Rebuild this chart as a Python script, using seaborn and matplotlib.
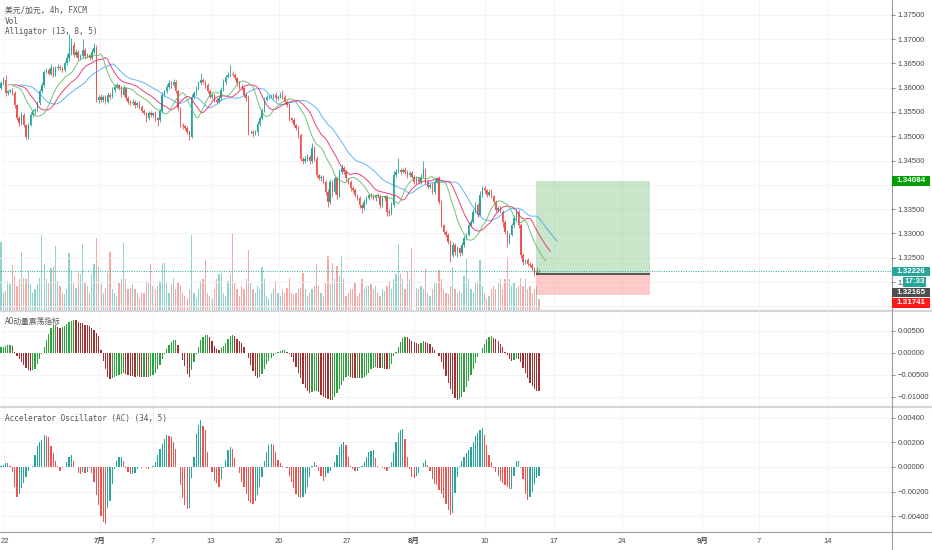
import numpy as np
import pandas as pd
import matplotlib
matplotlib.use("Agg")
import matplotlib.pyplot as plt
import seaborn as sns
from matplotlib.patches import Rectangle
from matplotlib.lines import Line2D

# ------------------------------------------ données (USD/CAD 4h) ------------------------------------------
first_open = 1.3600
closes = [
    1.3609, 1.3616, 1.3588, 1.3592, 1.3595, 1.3588, 1.3564, 1.3537, 1.3527, 1.3544,
    1.3523, 1.3499, 1.3523, 1.3544, 1.3551, 1.3554, 1.3568, 1.3592, 1.3605, 1.3633,
    1.3636, 1.3629, 1.3640, 1.3626, 1.3640, 1.3643, 1.3640, 1.3636, 1.3650, 1.3660,
    1.3671, 1.3688, 1.3667, 1.3674, 1.3660, 1.3664, 1.3677, 1.3664, 1.3667, 1.3660,
    1.3674, 1.3681, 1.3575, 1.3581, 1.3575, 1.3581, 1.3571, 1.3585, 1.3581, 1.3595,
    1.3602, 1.3605, 1.3599, 1.3585, 1.3599, 1.3578, 1.3571, 1.3568, 1.3571, 1.3564,
    1.3568, 1.3561, 1.3551, 1.3547, 1.3537, 1.3547, 1.3544, 1.3547, 1.3537, 1.3533,
    1.3551, 1.3585, 1.3592, 1.3602, 1.3609, 1.3605, 1.3612, 1.3592, 1.3557, 1.3523,
    1.3520, 1.3516, 1.3509, 1.3499, 1.3581, 1.3588, 1.3599, 1.3609, 1.3616, 1.3612,
    1.3605, 1.3592, 1.3581, 1.3585, 1.3575, 1.3571, 1.3578, 1.3595, 1.3612, 1.3622,
    1.3626, 1.3629, 1.3626, 1.3619, 1.3609, 1.3602, 1.3599, 1.3585, 1.3578, 1.3509,
    1.3509, 1.3506, 1.3509, 1.3526, 1.3537, 1.3554, 1.3575, 1.3581, 1.3581, 1.3581,
    1.3585, 1.3578, 1.3581, 1.3585, 1.3581, 1.3571, 1.3564, 1.3537, 1.3533, 1.3523,
    1.3516, 1.3502, 1.3454, 1.3448, 1.3454, 1.3458, 1.3448, 1.3475, 1.3454, 1.3420,
    1.3413, 1.3417, 1.3406, 1.3386, 1.3365, 1.3406, 1.3386, 1.3413, 1.3379, 1.3427,
    1.3434, 1.3427, 1.3413, 1.3406, 1.3393, 1.3389, 1.3379, 1.3372, 1.3358, 1.3352,
    1.3365, 1.3372, 1.3379, 1.3376, 1.3372, 1.3379, 1.3376, 1.3358, 1.3372, 1.3376,
    1.3345, 1.3341, 1.3358, 1.3420, 1.3427, 1.3430, 1.3427, 1.3430, 1.3427, 1.3420,
    1.3424, 1.3417, 1.3406, 1.3413, 1.3406, 1.3417, 1.3430, 1.3406, 1.3396, 1.3400,
    1.3386, 1.3406, 1.3413, 1.3365, 1.3317, 1.3303, 1.3297, 1.3283, 1.3256, 1.3276,
    1.3262, 1.3269, 1.3259, 1.3276, 1.3290, 1.3297, 1.3317, 1.3324, 1.3345, 1.3358,
    1.3338, 1.3379, 1.3393, 1.3389, 1.3379, 1.3386, 1.3376, 1.3365, 1.3348, 1.3352,
    1.3345, 1.3324, 1.3303, 1.3283, 1.3297, 1.3317, 1.3331, 1.3345, 1.3317, 1.3256,
    1.3242, 1.3245, 1.3238, 1.3235, 1.3228, 1.3218, 1.3223, 1.32226,
]
# mèches en pips au-dessus / en dessous du corps
wick_up = [
    4, 5, 10, 4, 3, 4, 5, 3, 4, 5, 4, 3, 4, 5, 4, 3, 5, 5, 6, 4,
    5, 4, 8, 4, 5, 6, 4, 3, 5, 10, 40, 15, 5, 6, 4, 5, 22, 4, 5, 3,
    6, 10, 6, 4, 5, 4, 3, 5, 4, 6, 5, 4, 3, 4, 6, 3, 4, 3, 5, 4,
    3, 4, 3, 4, 3, 4, 5, 3, 4, 3, 5, 6, 4, 5, 6, 4, 5, 3, 4, 3,
    4, 3, 4, 3, 5, 6, 4, 5, 15, 4, 3, 4, 5, 3, 4, 3, 5, 6, 5, 4,
    6, 18, 5, 4, 3, 4, 5, 3, 4, 6, 4, 3, 4, 5, 4, 5, 6, 4, 5, 6,
    4, 5, 4, 5, 10, 4, 3, 4, 3, 4, 3, 4, 5, 4, 6, 5, 4, 12, 4, 5,
    3, 4, 3, 4, 5, 6, 4, 5, 4, 6, 8, 4, 3, 4, 3, 4, 5, 3, 4, 3,
    5, 4, 3, 4, 5, 3, 4, 5, 4, 3, 4, 5, 6, 8, 6, 25, 5, 4, 6, 4,
    5, 4, 3, 5, 4, 6, 18, 4, 3, 4, 5, 6, 4, 5, 4, 3, 4, 3, 4, 6,
    4, 5, 4, 6, 5, 4, 5, 6, 5, 6, 4, 8, 5, 4, 3, 4, 5, 3, 4, 5,
    4, 3, 4, 5, 4, 5, 6, 6, 4, 5, 4, 3, 4, 3, 4, 3, 8, 4,
]
wick_dn = [
    4, 3, 5, 4, 3, 4, 5, 4, 6, 4, 5, 5, 4, 3, 4, 5, 3, 4, 3, 4,
    3, 4, 3, 5, 3, 4, 3, 4, 3, 4, 5, 3, 4, 5, 4, 3, 4, 5, 4, 3,
    4, 3, 5, 6, 4, 5, 4, 3, 4, 3, 4, 3, 4, 5, 3, 4, 5, 4, 3, 5,
    4, 5, 4, 3, 8, 4, 5, 4, 5, 12, 4, 3, 4, 3, 4, 5, 3, 4, 5, 4,
    5, 4, 5, 6, 3, 4, 3, 4, 3, 4, 5, 4, 3, 4, 5, 4, 3, 4, 3, 4,
    3, 4, 3, 4, 5, 4, 3, 4, 5, 6, 4, 8, 4, 6, 4, 3, 4, 3, 4, 3,
    4, 5, 4, 3, 4, 5, 4, 5, 4, 5, 4, 5, 6, 5, 4, 5, 6, 4, 5, 5,
    4, 5, 4, 6, 10, 5, 12, 4, 8, 4, 5, 4, 5, 4, 5, 4, 5, 4, 5, 10,
    4, 5, 4, 3, 4, 5, 4, 6, 4, 5, 10, 6, 4, 3, 4, 3, 4, 3, 4, 5,
    4, 3, 5, 4, 5, 4, 3, 5, 4, 3, 5, 4, 3, 5, 4, 5, 4, 5, 15, 5,
    6, 10, 5, 4, 3, 4, 3, 4, 3, 4, 5, 3, 4, 5, 4, 3, 4, 5, 4, 3,
    4, 10, 5, 12, 4, 3, 4, 3, 5, 6, 6, 4, 5, 4, 5, 5, 4, 4,
]
# hauteur relative des barres de volume
volume = [
    205, 55, 60, 90, 80, 137, 105, 75, 95, 175, 100, 95, 120, 80, 55, 65, 80, 100, 227, 140,
    95, 85, 130, 135, 195, 90, 75, 55, 50, 65, 173, 120, 85, 70, 115, 110, 200, 85, 75, 55,
    110, 140, 218, 135, 80, 55, 70, 115, 177, 65, 55, 45, 85, 95, 203, 95, 65, 70, 80, 65,
    55, 40, 55, 55, 90, 85, 140, 75, 65, 75, 90, 143, 145, 85, 55, 80, 100, 65, 85, 75,
    55, 45, 35, 65, 227, 55, 40, 65, 90, 95, 153, 55, 45, 35, 65, 95, 110, 115, 55, 45,
    90, 110, 232, 85, 65, 45, 75, 65, 95, 183, 85, 65, 55, 75, 65, 133, 95, 45, 35, 55,
    65, 90, 55, 45, 65, 55, 70, 100, 55, 50, 55, 65, 70, 115, 65, 45, 55, 65, 75, 140,
    75, 55, 45, 85, 165, 80, 143, 95, 135, 105, 165, 95, 45, 55, 65, 65, 85, 45, 55, 95,
    65, 75, 75, 80, 65, 75, 55, 45, 65, 60, 75, 90, 65, 95, 110, 200, 110, 95, 65, 120,
    95, 187, 110, 70, 65, 75, 65, 125, 55, 45, 65, 85, 85, 123, 95, 65, 55, 50, 75, 133,
    65, 55, 60, 55, 105, 155, 95, 65, 55, 85, 90, 153, 75, 55, 35, 45, 65, 75, 65, 85,
    95, 65, 95, 160, 95, 75, 85, 70, 75, 100, 75, 95, 65, 75, 55, 65, 75, 35,
]
# AO et AC (x 1e-4)
ao = [
    12, 14, 16, 17, 18, 15, 2, -8, -15, -22, -28, -35, -39, -41, -40, -36, -26, -14, -3, 12,
    28, 42, 55, 62, 64, 58, 56, 58, 60, 66, 70, 72, 75, 74, 70, 68, 67, 64, 62, 60,
    56, 52, 44, 38, 6, -18, -38, -55, -60, -58, -55, -52, -50, -48, -47, -48, -50, -53, -54, -55,
    -54, -55, -56, -55, -56, -55, -53, -50, -45, -37, -28, -14, -2, 8, 18, 24, 28, 29, 18, 0,
    -16, -30, -48, -56, -40, -20, -2, 14, 28, 36, 40, 40, 36, 26, 15, 8, 6, 10, 16, 22,
    30, 37, 40, 38, 32, 26, 22, 12, 0, -12, -28, -42, -52, -58, -56, -48, -36, -26, -18, -12,
    -8, -4, 2, 4, 5, 5, 2, -2, -10, -20, -32, -45, -58, -70, -80, -88, -91, -90, -88, -86,
    -90, -96, -100, -104, -106, -108, -107, -100, -92, -83, -74, -64, -56, -54, -55, -57, -58, -57, -58, -57,
    -55, -50, -45, -38, -34, -33, -34, -35, -35, -36, -38, -37, -25, -8, 2, 14, 25, 34, 36, 35,
    30, 27, 24, 22, 20, 22, 26, 24, 22, 20, 14, 6, 0, -8, -20, -36, -52, -68, -82, -94,
    -104, -107, -106, -100, -90, -78, -64, -50, -38, -24, -10, 0, 10, 20, 30, 36, 38, 34, 30, 26,
    20, 12, 2, -6, -14, -18, -16, -12, -14, -22, -34, -46, -58, -68, -76, -82, -86, -87,
]
ac = [
    1, 2, 3, 3, 1, -4, -16, -24, -22, -17, -13, -8, -3, 0, 1, 10, 17, 20, 22, 26,
    25, 24, 17, 11, 5, 1, -3, -1, 0, 4, 8, 10, 5, 0, -5, -6, -4, -5, -4, -1,
    -5, -12, -23, -31, -40, -45, -46, -33, -28, -14, -2, 5, 8, 8, 5, -1, -4, -6, -6, -5,
    -2, 0, -1, 0, -1, -2, 0, 1, 4, 10, 15, 19, 23, 26, 25, 24, 20, 15, 0, -15,
    -25, -31, -34, -33, -9, 8, 27, 34, 38, 33, 30, 12, 0, -4, -11, -13, -16, -10, -1, 6,
    14, 16, 15, 7, 0, -5, -12, -16, -22, -28, -29, -30, -28, -23, -16, -8, 5, 12, 18, 19,
    18, 12, 6, 3, 1, 0, -1, -7, -12, -17, -22, -24, -25, -24, -22, -16, -8, 1, 4, 2,
    -3, -7, -11, -8, -5, -3, 0, 4, 10, 16, 19, 20, 18, 8, 1, -2, -3, -3, -1, 1,
    4, 8, 12, 13, 14, 7, 1, 0, -1, -2, -3, -1, 4, 12, 20, 28, 30, 31, 23, 8,
    -2, -8, -9, -7, -5, 0, 3, 6, 2, -3, -10, -14, -15, -19, -22, -25, -30, -35, -39, -37,
    -21, -8, 1, 5, 8, 11, 14, 16, 20, 25, 28, 30, 32, 26, 18, 10, 4, -1, -4, -7,
    -11, -13, -15, -16, -18, -18, -7, 5, 5, -1, -10, -22, -27, -24, -20, -14, -9, -7,
]

price_ticks = [1.315, 1.320, 1.325, 1.330, 1.335, 1.340, 1.345, 1.350, 1.355, 1.360, 1.365, 1.370, 1.375]
hidden_ticks = [1.315, 1.340]      # masqués par les étiquettes colorées
clipped_tick = 1.320               # seul "1." reste visible à gauche du compte à rebours
ao_ticks = [0.005, 0.0, -0.005, -0.010]
ac_ticks = [0.004, 0.002, 0.0, -0.002, -0.004]
date_labels = ["22", "7月", "7", "13", "20", "27", "8月", "10", "17", "24", "9月", "7", "14"]
date_pos = [1.5, 43.6, 66.9, 92.5, 122.5, 152.4, 181.8, 213.2, 243.4, 273.6, 308.9, 334.0, 364.4]

last_price = 1.32226
entry = 1.32165
take_profit = 1.34084
stop_loss = 1.31741
countdown = "17:33"
pos_start, pos_end = 235.7, 286.0

UP, DOWN = "#26a69a", "#ef5350"
AO_UP, AO_DOWN = "#2aa33c", "#a3302f"
TXT = "#4a4a4a"
MONO = ["DejaVu Sans Mono", "Noto Sans CJK SC"]


# ------------------------------------------ préparation ------------------------------------------
def build_frame():
    df = pd.DataFrame({"close": closes})
    df["open"] = [first_open] + closes[:-1]
    body_top = df[["open", "close"]].max(axis=1)
    body_bot = df[["open", "close"]].min(axis=1)
    df["high"] = body_top + np.array(wick_up) * 1e-4
    df["low"] = body_bot - np.array(wick_dn) * 1e-4
    df["idx"] = np.arange(len(df))
    df["up"] = df["close"] >= df["open"]
    df["volume"] = volume
    df["ao"] = np.array(ao) * 1e-4
    df["ac"] = np.array(ac) * 1e-4
    df["ao_dir"] = np.where(df["ao"].diff().fillna(1) >= 0, "up", "down")
    df["ac_dir"] = np.where(df["ac"].diff().fillna(1) >= 0, "up", "down")
    return df


def smma(s, n):
    return s.ewm(alpha=1.0 / n, adjust=False).mean()


def fmt(v):
    s = f"{abs(v):.5f}"
    return ("\u2212" + s) if v < -1e-12 else s


def tick_text(t, hide, clip):
    if any(abs(t - h) < 1e-9 for h in hide):
        return ""
    if clip is not None and abs(t - clip) < 1e-9:
        return fmt(t)[:2]
    return fmt(t)


def style_axis(a, ticks, lim, hide=(), clip=None):
    a.set_xlim(XLIM)
    a.set_ylim(*lim)
    a.yaxis.tick_right()
    a.set_yticks(ticks)
    a.set_yticklabels([tick_text(t, hide, clip) for t in ticks])
    a.tick_params(axis="y", length=3, width=0.6, color="#787b86", labelsize=5.5,
                  labelcolor=TXT, pad=2)
    a.set_xticks(date_pos)
    a.tick_params(axis="x", length=0, labelbottom=False)
    for sp in a.spines.values():
        sp.set_visible(False)
    a.grid(True, color="#f2f3f7", lw=0.6)
    a.set_axisbelow(True)
    a.set_xlabel("")
    a.set_ylabel("")


# ------------------------------------------ figure ------------------------------------------
sns.set_theme(style="white")
plt.rcParams["font.family"] = ["Liberation Sans", "Noto Sans CJK SC"]

df = build_frame()
W, H = 932, 550
XLIM = (-1 / 2.27, 890 / 2.27)


def rect(top, bottom):
    return [0, 1 - bottom / H, 891 / W, (bottom - top) / H]


fig = plt.figure(figsize=(W / 100, H / 100), dpi=100)
ax_vol = fig.add_axes(rect(0, 311))
ax = fig.add_axes(rect(0, 311))
ax_ao = fig.add_axes(rect(311, 406.5))
ax_ac = fig.add_axes(rect(406.5, 532))

# volume (arrière-plan)
vol_cols = np.where(df["up"], UP, DOWN)
ax_vol.bar(df["idx"], df["volume"], width=0.55, color=vol_cols, alpha=0.5, lw=0)
ax_vol.set_xlim(XLIM)
ax_vol.set_ylim(0, 930)
ax_vol.axis("off")

ax.set_zorder(2)
ax.patch.set_alpha(0)

# bougies
cols = np.where(df["up"], UP, DOWN)
ax.vlines(df["idx"], df["low"], df["high"], colors=cols, lw=0.6)
body = np.maximum((df["close"] - df["open"]).abs(), 0.00006)
ax.bar(df["idx"], body, bottom=df[["open", "close"]].min(axis=1), width=0.62,
       color=cols, lw=0)

# alligator
hl2 = (df["high"] + df["low"]) / 2
sns.lineplot(x=df["idx"] + 8, y=smma(hl2, 13).values, ax=ax, color="#2196f3", lw=0.7, alpha=0.7)
sns.lineplot(x=df["idx"] + 5, y=smma(hl2, 8).values, ax=ax, color="#e91e63", lw=0.7, alpha=0.85)
sns.lineplot(x=df["idx"] + 3, y=smma(hl2, 5).values, ax=ax, color="#66bb6a", lw=0.7, alpha=0.9)

# outil de position
ax.add_patch(Rectangle((pos_start, entry), pos_end - pos_start, take_profit - entry,
                       fc="#4caf50", alpha=0.3, ec="none", zorder=1))
ax.add_patch(Rectangle((pos_start, stop_loss), pos_end - pos_start, entry - stop_loss,
                       fc="#ff5252", alpha=0.3, ec="none", zorder=1))
ax.hlines(entry, pos_start, pos_end, color="#555555", lw=1.4, zorder=2)
ax.axhline(last_price, color=UP, ls=(0, (1, 1.5)), lw=0.7)

style_axis(ax, price_ticks, (1.314033, 1.378025), hide=hidden_ticks, clip=clipped_tick)

# AO
sns.barplot(x=df["idx"], y=df["ao"], hue=df["ao_dir"], palette={"up": AO_UP, "down": AO_DOWN},
            native_scale=True, dodge=False, width=0.55, legend=False, errorbar=None,
            saturation=1, linewidth=0, ax=ax_ao)
style_axis(ax_ao, ao_ticks, (-0.012227, 0.009477))

# AC
sns.barplot(x=df["idx"], y=df["ac"], hue=df["ac_dir"], palette={"up": UP, "down": DOWN},
            native_scale=True, dodge=False, width=0.55, legend=False, errorbar=None,
            saturation=1, linewidth=0, ax=ax_ac)
style_axis(ax_ac, ac_ticks, (-0.005285, 0.004919))
ax_ac.set_xticks(date_pos)
ax_ac.set_xticklabels(date_labels)
ax_ac.tick_params(axis="x", length=2, width=0.6, color="#787b86", labelbottom=True,
                  labelsize=5.5, labelcolor=TXT, pad=2)
for lab in ax_ac.get_xticklabels():
    if "月" in lab.get_text():
        lab.set_fontweight("bold")


# étiquettes de prix sur l'axe droit (boîtes en pixels de la figure)
def price_box(yc, text, fc, x0=891.7, x1=930.0, h=10.0):
    fig.add_artist(Rectangle((x0 / W, 1 - (yc + h / 2) / H), (x1 - x0) / W, h / H,
                             transform=fig.transFigure, fc=fc, ec="none", zorder=5))
    fig.text((x0 + x1) / 2 / W, 1 - yc / H, text, ha="center", va="center", fontsize=5.8,
             color="white", fontweight="bold", zorder=6)


def y_of(price):
    return 14.7 + (1.375 - price) * 4860


price_box(y_of(take_profit), f"{take_profit:.5f}", "#00a000")
price_box(y_of(last_price), f"{last_price:.5f}", UP, h=9.0)
price_box(281.7, countdown, UP, x0=903.0, x1=926.0)
price_box(292.0, f"{entry:.5f}", "#4d4d4d", h=9.0)
price_box(302.7, f"{stop_loss:.5f}", "#ff1a1a")

# séparateurs et axes
fig.add_artist(Line2D([0, 1], [1 - 311 / H] * 2, color="#d4d6dc", lw=1.6))
fig.add_artist(Line2D([0, 1], [1 - 406.5 / H] * 2, color="#d4d6dc", lw=1.6))
fig.add_artist(Line2D([0, 1], [1 - 532 / H] * 2, color="#9a9ca3", lw=0.8))
fig.add_artist(Line2D([891.5 / W] * 2, [0, 1], color="#9a9ca3", lw=0.8))

# légendes
fig.text(5 / W, 1 - 10 / H, "美元/加元, 4h, FXCM", fontsize=5.6, color="#555555",
         family=MONO, va="center")
fig.text(5 / W, 1 - 21 / H, "Vol", fontsize=5.6, color="#555555", family=MONO, va="center")
fig.text(5 / W, 1 - 32 / H, "Alligator (13, 8, 5)", fontsize=5.6, color="#555555",
         family=MONO, va="center")
fig.text(5 / W, 1 - 321 / H, "AO动量震荡指标", fontsize=5.6, color="#555555",
         family=MONO, va="center")
fig.text(5 / W, 1 - 419 / H, "Accelerator Oscillator (AC) (34, 5)", fontsize=5.6,
         color="#555555", family=MONO, va="center")

fig.savefig("out.png", dpi=100)
